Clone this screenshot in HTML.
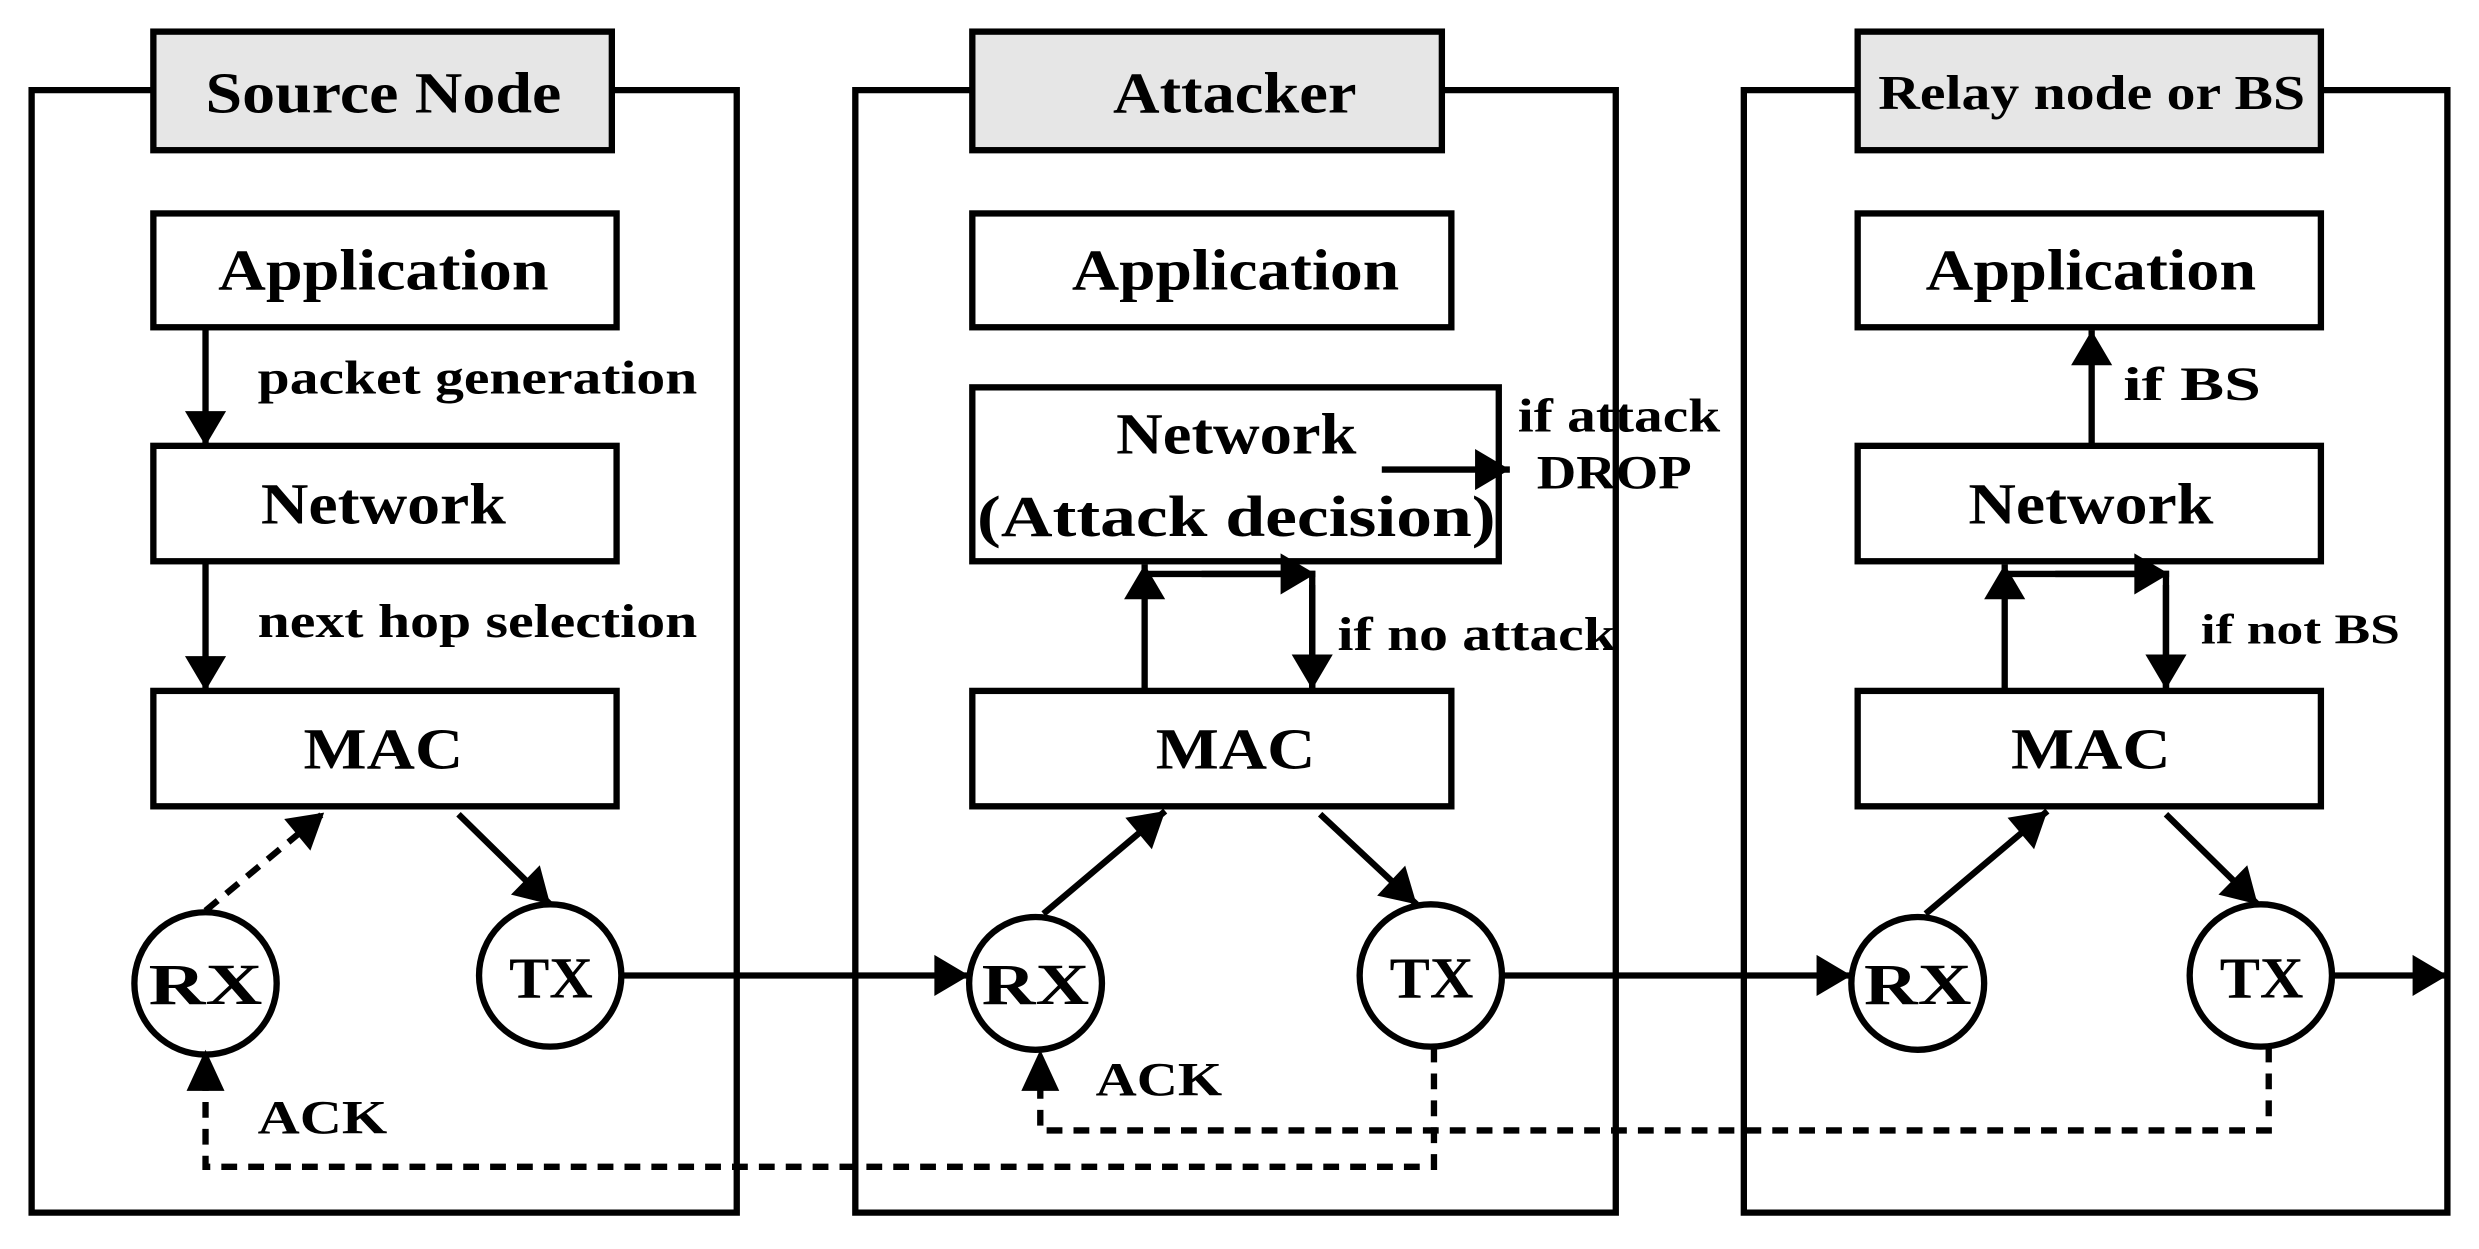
<!DOCTYPE html>
<html><head><meta charset="utf-8"><style>html,body{margin:0;padding:0;background:#fff}svg{display:block}</style></head><body>
<svg width="2479" height="1249" viewBox="0 0 1568 790" xmlns="http://www.w3.org/2000/svg" font-family="Liberation Serif, serif" font-weight="bold">
<defs>
<marker id="a" markerWidth="8" markerHeight="8" refX="7" refY="4" orient="auto" markerUnits="userSpaceOnUse" viewBox="0 0 8 8" style="overflow:visible">
<path d="M-22,-9 L0,4 L-22,17 Z" transform="translate(7,0)" fill="#000"/></marker>
</defs>
<g fill="none" stroke="#000" stroke-width="4">
<path d="M97,57 H20 V767 H466 V57 H387"/>
<path d="M615,57 H541 V767 H1022 V57 H912"/>
<path d="M1175,57 H1103 V767 H1548 V57 H1468"/>
</g>
<g stroke="#000" stroke-width="4" fill="#e6e6e6">
<rect x="97" y="20" width="290" height="75"/>
<rect x="615" y="20" width="297" height="75"/>
<rect x="1175" y="20" width="293" height="75"/>
</g>
<g stroke="#000" stroke-width="4" fill="#fff">
<rect x="97" y="135" width="293" height="72"/>
<rect x="97" y="282" width="293" height="73"/>
<rect x="97" y="437" width="293" height="73"/>
<rect x="615" y="135" width="303" height="72"/>
<rect x="615" y="245" width="333" height="110"/>
<rect x="615" y="437" width="303" height="73"/>
<rect x="1175" y="135" width="293" height="72"/>
<rect x="1175" y="282" width="293" height="73"/>
<rect x="1175" y="437" width="293" height="73"/>
<circle cx="130" cy="622" r="45"/>
<circle cx="348" cy="617" r="45"/>
<circle cx="655" cy="622" r="42"/>
<circle cx="905" cy="617" r="45"/>
<circle cx="1213" cy="622" r="42"/>
<circle cx="1430" cy="617" r="45"/>
</g>
<g stroke="#000" stroke-width="4" fill="none">
<line x1="130" y1="207" x2="130" y2="282" marker-end="url(#a)"/>
<line x1="130" y1="355" x2="130" y2="437" marker-end="url(#a)"/>
<line x1="290" y1="515" x2="348" y2="572" marker-end="url(#a)"/>
<line x1="393" y1="617" x2="613" y2="617" marker-end="url(#a)"/>
<line x1="950" y1="617" x2="1171" y2="617" marker-end="url(#a)"/>
<line x1="1475" y1="617" x2="1548" y2="617" marker-end="url(#a)"/>
<line x1="660" y1="578" x2="737" y2="513" marker-end="url(#a)"/>
<line x1="835" y1="515" x2="896" y2="572" marker-end="url(#a)"/>
<line x1="1218" y1="578" x2="1295" y2="513" marker-end="url(#a)"/>
<line x1="1370" y1="515" x2="1428" y2="572" marker-end="url(#a)"/>
<line x1="874" y1="297" x2="955" y2="297" marker-end="url(#a)"/>
<line x1="724" y1="437" x2="724" y2="357" marker-end="url(#a)"/>
<polyline points="724,363 830,363 830,437"/><line x1="760" y1="363" x2="832" y2="363" marker-end="url(#a)"/><line x1="830" y1="370" x2="830" y2="436" marker-end="url(#a)"/>
<line x1="1268" y1="437" x2="1268" y2="357" marker-end="url(#a)"/>
<polyline points="1268,363 1370,363 1370,437"/><line x1="1300" y1="363" x2="1372" y2="363" marker-end="url(#a)"/><line x1="1370" y1="370" x2="1370" y2="436" marker-end="url(#a)"/>
<line x1="1323" y1="282" x2="1323" y2="209" marker-end="url(#a)"/>
<g stroke-dasharray="10,7">
<line x1="130" y1="576" x2="205" y2="514" marker-end="url(#a)"/>
<polyline points="907,662 907,738 130,738 130,670" />
<polyline points="1435,662 1435,715 658,715 658,670"/>
</g>
</g>
<g fill="#000">
<path d="M118,690 L130,664 L142,690 Z"/>
<path d="M646,690 L658,664 L670,690 Z"/>
</g>
<g font-size="37">
<text x="130" y="71" textLength="225" lengthAdjust="spacingAndGlyphs">Source Node</text>
<text x="704" y="71" textLength="154" lengthAdjust="spacingAndGlyphs">Attacker</text>
<text x="1188" y="69" font-size="31" textLength="270" lengthAdjust="spacingAndGlyphs">Relay node or BS</text>
<text x="138" y="183" textLength="209" lengthAdjust="spacingAndGlyphs">Application</text>
<text x="165" y="331" textLength="155" lengthAdjust="spacingAndGlyphs">Network</text>
<text x="192" y="486" textLength="101" lengthAdjust="spacingAndGlyphs">MAC</text>
<text x="678" y="183" textLength="207" lengthAdjust="spacingAndGlyphs">Application</text>
<text x="706" y="287" textLength="152" lengthAdjust="spacingAndGlyphs">Network</text>
<text x="618" y="339" textLength="328" lengthAdjust="spacingAndGlyphs">(Attack decision)</text>
<text x="731" y="486" textLength="101" lengthAdjust="spacingAndGlyphs">MAC</text>
<text x="1218" y="183" textLength="209" lengthAdjust="spacingAndGlyphs">Application</text>
<text x="1245" y="331" textLength="155" lengthAdjust="spacingAndGlyphs">Network</text>
<text x="1272" y="486" textLength="101" lengthAdjust="spacingAndGlyphs">MAC</text>
<text x="94" y="635" textLength="72" lengthAdjust="spacingAndGlyphs">RX</text>
<text x="322" y="631" textLength="53" lengthAdjust="spacingAndGlyphs">TX</text>
<text x="621" y="635" textLength="68" lengthAdjust="spacingAndGlyphs">RX</text>
<text x="879" y="631" textLength="53" lengthAdjust="spacingAndGlyphs">TX</text>
<text x="1179" y="635" textLength="68" lengthAdjust="spacingAndGlyphs">RX</text>
<text x="1404" y="631" textLength="53" lengthAdjust="spacingAndGlyphs">TX</text>
</g>
<g font-size="30">
<text x="163" y="249" textLength="278" lengthAdjust="spacingAndGlyphs">packet generation</text>
<text x="163" y="403" textLength="278" lengthAdjust="spacingAndGlyphs">next hop selection</text>
<text x="163" y="717" textLength="82" lengthAdjust="spacingAndGlyphs">ACK</text>
<text x="693" y="693" textLength="80" lengthAdjust="spacingAndGlyphs">ACK</text>
<text x="960" y="273" textLength="128" lengthAdjust="spacingAndGlyphs">if attack</text>
<text x="972" y="309" textLength="98" lengthAdjust="spacingAndGlyphs">DROP</text>
<text x="846" y="411" textLength="176" lengthAdjust="spacingAndGlyphs">if no attack</text>
<text x="1343" y="253" textLength="87" lengthAdjust="spacingAndGlyphs">if BS</text>
<text x="1392" y="407" font-size="27" textLength="126" lengthAdjust="spacingAndGlyphs">if not BS</text>
</g>
</svg>
</body></html>
